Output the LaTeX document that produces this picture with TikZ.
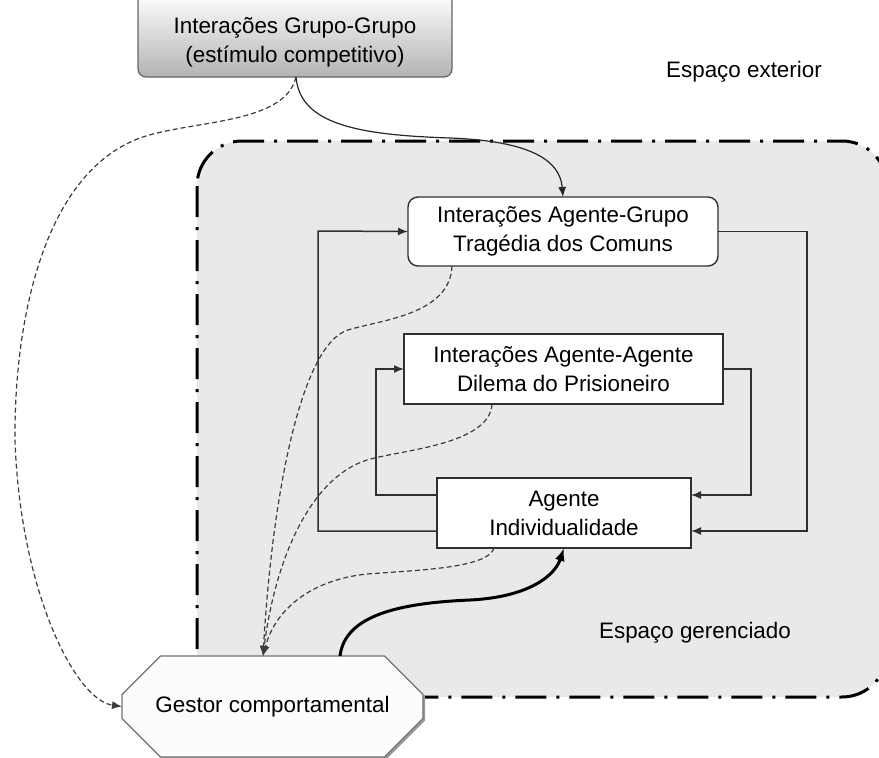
\documentclass[tikz,border=0pt]{standalone}
\usepackage{fontspec}
\setmainfont{Liberation Sans}
\usetikzlibrary{arrows.meta,shapes.misc,shadows,calc}
\definecolor{managedfill}{HTML}{E9E9E9}
\definecolor{edgegray}{HTML}{303030}
\definecolor{linkgray}{HTML}{3C3C3C}
\tikzset{
  lbl/.style={font=\fontsize{22.4}{29}\selectfont, align=center, inner sep=0pt},
  whitebox/.style={draw=edgegray, line width=1.4pt, fill=white, inner sep=0pt, outer sep=0pt, align=center,
    font=\fontsize{22.4}{29}\selectfont},
  loopline/.style={draw=edgegray, line width=1.5pt, -{Latex[length=10pt,width=8pt]}},
  softlink/.style={draw=linkgray, line width=1.2pt, dash pattern=on 5pt off 3pt},
  softarrow/.style={softlink, -{Latex[length=10pt,width=8pt]}},
  flowline/.style={draw=black!85, line width=1.2pt, -{Latex[length=10pt,width=8pt]}},
  strongline/.style={draw=black, line width=3pt, -{Latex[length=13pt,width=10pt]}},
  boundary/.style={draw=black, line width=3pt, dash pattern=on 31pt off 10pt on 3pt off 10pt}
}
\begin{document}
\begin{tikzpicture}[x=1pt,y=-1pt]
\useasboundingbox (0,0) rectangle (879,758);

% managed space
\fill[managedfill, rounded corners=45pt] (197,141) rectangle (887,697);
\draw[boundary, rounded corners=45pt] (197,141) rectangle (887,697);

% outer stimulus node
\node[draw=black!60, line width=1.2pt, rounded corners=8pt, top color=white, bottom color=black!30,
      minimum width=314pt, minimum height=84pt, inner sep=0pt, outer sep=0pt] (gg) at (295,35) {};
\node[lbl] (ggtxt) at (295,42) {Interações Grupo-Grupo\\(estímulo competitivo)};

% inner nodes
\node[whitebox, rounded corners=10pt, minimum width=310pt, minimum height=69pt] (ag) at (563,231.5)
  {Interações Agente-Grupo\\Tragédia dos Comuns};
\node[whitebox, minimum width=319pt, minimum height=70pt] (aa) at (563.5,369)
  {Interações Agente-Agente\\Dilema do Prisioneiro};
\node[whitebox, minimum width=254pt, minimum height=70pt] (ind) at (564,513)
  {Agente\\Individualidade};

% behaviour manager
\node[draw=black!55, line width=1.2pt, fill=black!1, chamfered rectangle, chamfered rectangle xsep=28pt,
      chamfered rectangle ysep=28pt, minimum width=301pt, minimum height=101pt, inner sep=0pt, outer sep=0pt,
      font=\fontsize{22.4}{29}\selectfont,
      drop shadow={shadow xshift=2pt, shadow yshift=-2pt, fill=black!40, opacity=1}] (gestor) at (272.5,706.5)
  {Gestor comportamental};

% labels of the two spaces
\node[lbl] (ext) at (744,72) {Espaço exterior};
\node[lbl] (ger) at (695,633) {Espaço gerenciado};

% feedback loops
\draw[loopline] ($(ind.west)+(0,18)$) -| (318,231) -- (ag.west);
\draw[loopline] ($(ind.west)+(0,-18)$) -| (376,369) -- (aa.west);
\draw[loopline] (ag.east) -| (807,531) -- ($(ind.east)+(0,18)$);
\draw[loopline] (aa.east) -| (751,495) -- ($(ind.east)+(0,-18)$);

% stimulus into the managed space
\draw[flowline] ($(gg.south)+(1,0)$) .. controls (300,125) and (360,135) .. (450,138)
  .. controls (530,141) and (560,160) .. (ag.north);

% soft influences towards the manager
\coordinate (gin) at ($(gestor.north)+(-9.5,0)$);
\draw[softarrow] ($(gg.south)+(1,0)$) .. controls (285,125) and (190,120) .. (140,138)
  .. controls (40,175) and (14,330) .. (15,440)
  .. controls (20,590) and (75,700) .. (gestor.west);
\draw[softarrow] ($(ag.south)+(-111,0)$) .. controls (450,315) and (380,320) .. (348,330)
  .. controls (300,345) and (272,500) .. (gin);
\draw[softarrow] ($(aa.south)+(-71.5,0)$) .. controls (490,445) and (400,450) .. (367,460)
  .. controls (310,478) and (275,560) .. (gin);
\draw[softarrow] ($(ind.south)+(-70,0)$) .. controls (488,568) and (420,570) .. (367,574)
  .. controls (310,580) and (275,610) .. (gin);

% manager acting on the individual
\draw[strongline] ($(gestor.north)+(67.5,0)$) .. controls (345,615) and (400,603) .. (470,600)
  .. controls (530,597) and (555,575) .. (ind.south);
\end{tikzpicture}
\end{document}
